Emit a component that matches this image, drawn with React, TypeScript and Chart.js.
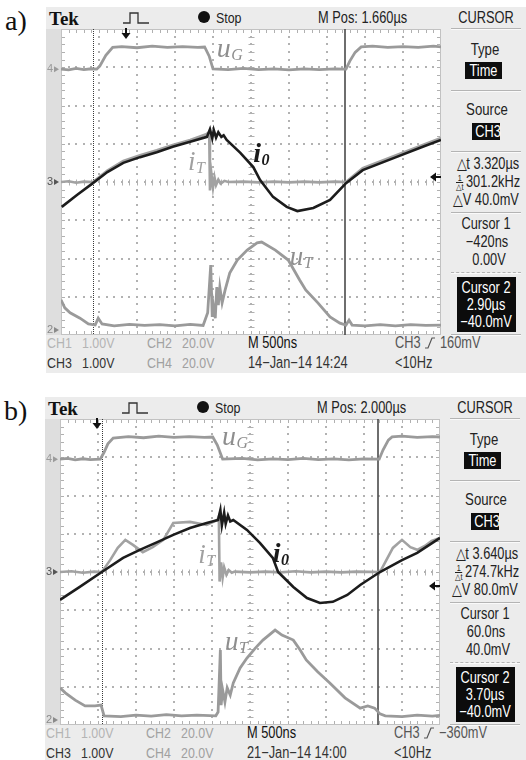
import React, { useEffect, useRef } from "react";
import { Chart, registerables } from "chart.js";
Chart.register(...registerables);

type P = [number, number];

// ---- Graticule: 10 horizontal divisions of 0.5 µs, 8 vertical divisions ----
const X_DIVS = 10;
const Y_DIVS = 8;
const SEC_PER_DIV = 0.5; // µs
const CHANNEL_LEVELS = [
  { label: "4", y: 6.95, color: "#9a9a9a" },
  { label: "3", y: 4.0, color: "#555555" },
  { label: "2", y: 0.13, color: "#8a8a8a" },
];

// ---- Panel a) ----
const A_UG: P[] = [[0,6.95],[0.1,6.93],[0.2,6.97],[0.3,6.94],[0.4,6.96],[0.47,6.95],[0.51,7.03],[0.59,7.31],[0.68,7.52],[0.8,7.54],[1.0,7.51],[1.2,7.55],[1.4,7.52],[1.6,7.54],[1.8,7.52],[1.89,7.53],[1.95,7.29],[2.0,6.96],[2.2,6.94],[2.4,6.97],[2.6,6.94],[2.8,6.96],[3.0,6.93],[3.2,6.96],[3.4,6.94],[3.6,6.96],[3.75,6.95],[3.8,7.16],[3.87,7.39],[3.95,7.53],[4.1,7.55],[4.3,7.52],[4.5,7.54],[4.7,7.52],[4.9,7.55],[5.0,7.53]];
const A_I0: P[] = [[0.01,3.35],[0.21,3.66],[0.42,3.97],[0.61,4.26],[0.82,4.5],[1.04,4.65],[1.26,4.78],[1.47,4.92],[1.7,5.05],[1.92,5.18],[1.96,5.38],[1.99,5.14],[2.01,5.36],[2.04,5.16],[2.07,5.3],[2.11,5.18],[2.14,5.22],[2.18,5.1],[2.36,4.76],[2.53,4.39],[2.62,4.05],[2.79,3.61],[2.97,3.35],[3.11,3.24],[3.32,3.32],[3.54,3.53],[3.75,3.97],[3.97,4.31],[4.41,4.65],[4.76,4.92],[5.0,5.1]];
const A_IT: P[] = [[0,4.0],[0.1,4.02],[0.2,3.98],[0.3,4.01],[0.42,4.0],[0.61,4.3],[0.82,4.55],[1.04,4.7],[1.26,4.83],[1.47,4.97],[1.7,5.1],[1.9,5.24],[1.95,5.3],[1.96,3.78],[1.98,4.2],[2.0,3.85],[2.02,4.12],[2.04,3.92],[2.07,4.06],[2.1,3.96],[2.15,4.03],[2.2,4.0],[2.4,4.01],[2.6,3.99],[2.8,4.01],[3.0,3.99],[3.2,4.01],[3.4,3.99],[3.6,4.01],[3.75,4.0],[3.97,4.36],[4.41,4.7],[4.76,4.97],[5.0,5.15]];
const A_UT: P[] = [[0,0.92],[0.05,0.71],[0.12,0.58],[0.25,0.44],[0.36,0.29],[0.45,0.26],[0.49,0.44],[0.54,0.29],[0.7,0.24],[0.9,0.28],[1.1,0.25],[1.3,0.27],[1.5,0.24],[1.7,0.28],[1.87,0.25],[1.93,0.58],[1.97,1.83],[1.99,0.47],[2.0,0.84],[2.03,0.44],[2.05,1.25],[2.07,0.78],[2.09,1.25],[2.12,0.84],[2.16,1.18],[2.22,1.62],[2.32,1.96],[2.45,2.22],[2.58,2.41],[2.64,2.43],[2.82,2.22],[2.99,1.96],[3.14,1.44],[3.22,1.18],[3.38,0.84],[3.54,0.47],[3.67,0.31],[3.75,0.26],[3.79,0.39],[3.83,0.26],[4.0,0.24],[4.2,0.27],[4.4,0.24],[4.6,0.27],[4.8,0.25],[5.0,0.26]];

// ---- Panel b) ----
const B_UG: P[] = [[0,6.95],[0.1,6.97],[0.2,6.93],[0.3,6.96],[0.4,6.94],[0.53,6.95],[0.58,7.13],[0.63,7.35],[0.7,7.5],[0.9,7.54],[1.1,7.51],[1.3,7.55],[1.5,7.52],[1.7,7.54],[1.9,7.52],[2.01,7.53],[2.07,7.32],[2.14,6.95],[2.4,6.97],[2.6,6.93],[2.8,6.96],[3.0,6.94],[3.2,6.97],[3.4,6.94],[3.6,6.96],[3.8,6.93],[4.0,6.96],[4.2,6.95],[4.25,7.19],[4.32,7.45],[4.37,7.53],[4.5,7.55],[4.7,7.52],[4.9,7.54],[5.0,7.53]];
const B_I0: P[] = [[0,3.27],[0.26,3.61],[0.55,4.0],[0.83,4.37],[1.05,4.58],[1.28,4.78],[1.49,4.97],[1.71,5.15],[1.93,5.28],[2.08,5.36],[2.11,5.62],[2.13,5.22],[2.16,5.55],[2.18,5.26],[2.21,5.48],[2.24,5.32],[2.28,5.36],[2.46,5.1],[2.63,4.76],[2.8,4.37],[2.87,4.0],[3.07,3.61],[3.25,3.32],[3.42,3.19],[3.59,3.22],[3.78,3.4],[3.95,3.66],[4.21,4.0],[4.5,4.31],[4.7,4.5],[5.0,4.89]];
const B_IT: P[] = [[0,4.0],[0.15,4.02],[0.3,3.98],[0.45,4.01],[0.55,4.0],[0.66,4.31],[0.76,4.63],[0.86,4.84],[0.96,4.71],[1.09,4.52],[1.22,4.65],[1.36,4.84],[1.49,5.28],[1.71,5.31],[1.93,5.23],[2.07,5.36],[2.09,5.46],[2.1,3.75],[2.12,4.25],[2.14,3.85],[2.16,4.12],[2.19,3.93],[2.22,4.05],[2.26,3.98],[2.3,4.01],[2.5,3.99],[2.7,4.01],[2.9,3.99],[3.1,4.02],[3.3,3.99],[3.5,4.01],[3.7,3.99],[3.9,4.01],[4.21,4.0],[4.28,4.26],[4.38,4.63],[4.5,4.84],[4.61,4.65],[4.7,4.58],[4.8,4.68],[4.89,4.81],[5.0,4.89]];
const B_UT: P[] = [[0,0.97],[0.07,0.84],[0.2,0.65],[0.33,0.5],[0.46,0.5],[0.54,0.52],[0.58,0.24],[0.8,0.22],[1.0,0.26],[1.2,0.23],[1.4,0.27],[1.6,0.24],[1.8,0.26],[2.05,0.24],[2.08,0.34],[2.11,1.96],[2.12,0.52],[2.14,0.92],[2.17,0.6],[2.2,0.97],[2.24,0.78],[2.28,1.1],[2.37,1.49],[2.46,1.75],[2.57,2.01],[2.67,2.22],[2.83,2.48],[2.92,2.35],[3.07,2.22],[3.16,1.96],[3.24,1.7],[3.39,1.39],[3.55,1.1],[3.75,0.71],[3.95,0.44],[4.05,0.5],[4.14,0.44],[4.21,0.29],[4.28,0.24],[4.5,0.22],[4.7,0.26],[4.9,0.23],[5.0,0.25]];

type Label = { x: number; y: number; main: string; sub: string; color: string; bold: boolean; size: number };

type PanelCfg = {
  ox: number; oy: number; tag: string;
  mpos: string; dt: string; freq: string; dv: string;
  c1t: string; c1v: string; c2t: string; c2v: string;
  trig: string; date: string;
  cursor1: number; cursor2: number; trigPos: number; trigLevel: number;
  uG: P[]; i0: P[]; iT: P[]; uT: P[];
  labels: Label[];
};

const PANEL_A: PanelCfg = {
  ox: 0, oy: 0, tag: "a)",
  mpos: "M Pos: 1.660\u00b5s", dt: "3.320\u00b5s", freq: "301.2kHz", dv: "40.0mV",
  c1t: "\u2212420ns", c1v: "0.00V", c2t: "2.90\u00b5s", c2v: "\u221240.0mV",
  trig: "160mV", date: "14\u2212Jan\u221214 14:24",
  cursor1: 0.42, cursor2: 3.74, trigPos: 0.855, trigLevel: 4.13,
  uG: A_UG, i0: A_I0, iT: A_IT, uT: A_UT,
  labels: [
    { x: 2.05, y: 7.27, main: "u", sub: "G", color: "#8e8e8e", bold: false, size: 28 },
    { x: 2.53, y: 4.52, main: "i", sub: "0", color: "#1a1a1a", bold: true, size: 28 },
    { x: 1.67, y: 4.31, main: "i", sub: "T", color: "#a0a0a0", bold: false, size: 27 },
    { x: 3.01, y: 1.83, main: "u", sub: "T", color: "#8e8e8e", bold: false, size: 27 },
  ],
};

const PANEL_B: PanelCfg = {
  ox: -1, oy: 390, tag: "b)",
  mpos: "M Pos: 2.000\u00b5s", dt: "3.640\u00b5s", freq: "274.7kHz", dv: "80.0mV",
  c1t: "60.0ns", c1v: "40.0mV", c2t: "3.70\u00b5s", c2v: "\u221240.0mV",
  trig: "\u2212360mV", date: "21\u2212Jan\u221214 14:00",
  cursor1: 0.55, cursor2: 4.19, trigPos: 0.49, trigLevel: 3.63,
  uG: B_UG, i0: B_I0, iT: B_IT, uT: B_UT,
  labels: [
    { x: 2.13, y: 7.32, main: "u", sub: "G", color: "#8e8e8e", bold: false, size: 28 },
    { x: 2.8, y: 4.26, main: "i", sub: "0", color: "#1a1a1a", bold: true, size: 28 },
    { x: 1.82, y: 4.24, main: "i", sub: "T", color: "#a0a0a0", bold: false, size: 27 },
    { x: 2.17, y: 1.96, main: "u", sub: "T", color: "#8e8e8e", bold: false, size: 27 },
  ],
};

const SCOPE_FONT = '"Liberation Sans", "Arial", sans-serif';
const SERIF = '"Liberation Serif", "DejaVu Serif", serif';
const SQUEEZE = 0.8;

const toXY = (arr: P[]) => arr.map(([x, y]) => ({ x, y }));

function scopePlugin(cfg: PanelCfg) {
  return {
    id: "scope",
    beforeDraw(chart: any) {
      const { ctx, chartArea: a, scales } = chart;
      const xs = scales.x, ys = scales.y;
      ctx.save();
      ctx.fillStyle = "#ffffff";
      ctx.fillRect(a.left, a.top, a.right - a.left, a.bottom - a.top);
      ctx.fillStyle = "#b2b2b2";
      for (let i = 1; i < X_DIVS; i++) {
        const px = Math.round(xs.getPixelForValue(i * SEC_PER_DIV));
        for (let j = 1; j < Y_DIVS * 5; j++) {
          const py = Math.round(ys.getPixelForValue(j / 5));
          ctx.fillRect(px - 1, py - 1, 2, 2);
        }
      }
      for (let j = 1; j < Y_DIVS; j++) {
        const py = Math.round(ys.getPixelForValue(j));
        for (let i = 1; i < X_DIVS * 5; i++) {
          const px = Math.round(xs.getPixelForValue((i / 5) * SEC_PER_DIV));
          ctx.fillRect(px - 1, py - 1, 2, 2);
        }
      }
      ctx.strokeStyle = "#b0b0b0";
      ctx.lineWidth = 1;
      const cx = Math.round(xs.getPixelForValue((X_DIVS / 2) * SEC_PER_DIV)) + 0.5;
      const cy = Math.round(ys.getPixelForValue(Y_DIVS / 2)) + 0.5;
      ctx.beginPath();
      for (let i = 1; i < X_DIVS * 5; i++) {
        const px = Math.round(xs.getPixelForValue((i / 5) * SEC_PER_DIV)) + 0.5;
        ctx.moveTo(px, cy - 3); ctx.lineTo(px, cy + 3);
        ctx.moveTo(px, a.top); ctx.lineTo(px, a.top + 4);
        ctx.moveTo(px, a.bottom); ctx.lineTo(px, a.bottom - 4);
      }
      for (let j = 1; j < Y_DIVS * 5; j++) {
        const py = Math.round(ys.getPixelForValue(j / 5)) + 0.5;
        ctx.moveTo(cx - 3, py); ctx.lineTo(cx + 3, py);
        ctx.moveTo(a.left, py); ctx.lineTo(a.left + 4, py);
        ctx.moveTo(a.right, py); ctx.lineTo(a.right - 4, py);
      }
      ctx.stroke();
      ctx.strokeStyle = "#c2c2c2";
      ctx.strokeRect(a.left + 0.5, a.top + 0.5, a.right - a.left - 1, a.bottom - a.top - 1);
      ctx.restore();
    },
    beforeDatasetsDraw(chart: any) {
      const { ctx, chartArea: a, scales } = chart;
      ctx.save();
      const p1 = Math.round(scales.x.getPixelForValue(cfg.cursor1)) + 0.5;
      ctx.strokeStyle = "#3a3a3a";
      ctx.lineWidth = 1;
      ctx.setLineDash([1, 1]);
      ctx.beginPath(); ctx.moveTo(p1, a.top); ctx.lineTo(p1, a.bottom); ctx.stroke();
      ctx.setLineDash([]);
      const p2 = Math.round(scales.x.getPixelForValue(cfg.cursor2));
      ctx.strokeStyle = "#4a4a4a";
      ctx.lineWidth = 1.6;
      ctx.beginPath(); ctx.moveTo(p2, a.top); ctx.lineTo(p2, a.bottom); ctx.stroke();
      ctx.restore();
    },
    afterDatasetsDraw(chart: any) {
      const { ctx, chartArea: a, scales } = chart;
      const xs = scales.x, ys = scales.y;
      ctx.save();
      for (const l of cfg.labels) {
        const px = xs.getPixelForValue(l.x), py = ys.getPixelForValue(l.y);
        ctx.fillStyle = l.color;
        ctx.textAlign = "left";
        ctx.textBaseline = "alphabetic";
        ctx.font = `italic ${l.bold ? "bold " : ""}${l.size}px ${SERIF}`;
        ctx.fillText(l.main, px, py);
        const w = ctx.measureText(l.main).width;
        ctx.font = `italic ${l.bold ? "bold " : ""}16px ${SERIF}`;
        ctx.fillText(l.sub, px + w + 0.5, py + 3);
      }
      for (const m of CHANNEL_LEVELS) {
        const py = ys.getPixelForValue(m.y);
        ctx.fillStyle = m.color;
        ctx.font = `11px ${SCOPE_FONT}`;
        ctx.textBaseline = "middle";
        ctx.textAlign = "left";
        ctx.fillText(m.label, a.left - 14, py);
        ctx.beginPath();
        ctx.moveTo(a.left - 7, py - 3); ctx.lineTo(a.left - 2, py); ctx.lineTo(a.left - 7, py + 3);
        ctx.closePath(); ctx.fill();
      }
      const tx = Math.round(xs.getPixelForValue(cfg.trigPos));
      ctx.fillStyle = "#111";
      ctx.fillRect(tx - 1, a.top - 1, 2, 6);
      ctx.beginPath();
      ctx.moveTo(tx - 4.5, a.top + 4); ctx.lineTo(tx + 4.5, a.top + 4); ctx.lineTo(tx, a.top + 10);
      ctx.closePath(); ctx.fill();
      const ty = Math.round(ys.getPixelForValue(cfg.trigLevel));
      ctx.fillRect(a.right - 6, ty - 1, 6, 2);
      ctx.beginPath();
      ctx.moveTo(a.right - 5, ty - 4.5); ctx.lineTo(a.right - 5, ty + 4.5); ctx.lineTo(a.right - 11, ty);
      ctx.closePath(); ctx.fill();
      ctx.restore();
    },
  };
}

const Txt = ({ x, y, s = 15.5, c = "#222", w = 400, f = SCOPE_FONT, sq = SQUEEZE, children }: any) => (
  <span style={{ position: "absolute", left: x, top: y - s * 0.6, fontSize: s, lineHeight: `${s * 1.2}px`, color: c, fontWeight: w, fontFamily: f, whiteSpace: "nowrap", transform: `scaleX(${sq})`, transformOrigin: "left center" }}>{children}</span>
);

const CTxt = ({ cx, y, s = 15.5, c = "#222", children }: any) => (
  <div style={{ position: "absolute", left: cx - 50, width: 100, top: y - s * 0.6, fontSize: s, lineHeight: `${s * 1.2}px`, color: c, fontFamily: SCOPE_FONT, textAlign: "center", whiteSpace: "nowrap", transform: `scaleX(${SQUEEZE})`, transformOrigin: "center center" }}>
    {children}
  </div>
);

const Box = ({ x, y, w, h, children }: any) => (
  <div style={{ position: "absolute", left: x, top: y, width: w, height: h, background: "#0e0e0e", color: "#fff", fontFamily: SCOPE_FONT, fontSize: 16, lineHeight: `${h}px`, textAlign: "center", whiteSpace: "nowrap", overflow: "visible" }}>
    <span style={{ display: "inline-block", transform: `scaleX(${SQUEEZE})` }}>{children}</span>
  </div>
);

const Sep = ({ x, y, w, dashed }: any) => (
  <div style={{ position: "absolute", left: x, top: y, width: w, height: 0, borderTop: `1px ${dashed ? "dashed" : "solid"} #b4b4b4`, borderBottom: "1px solid #fafafa" }} />
);

function ScopePanel({ cfg }: { cfg: PanelCfg }) {
  const ref = useRef<HTMLCanvasElement>(null);
  useEffect(() => {
    const chart = new Chart(ref.current as HTMLCanvasElement, {
      type: "line",
      data: {
        datasets: [
          { label: "i0", data: toXY(cfg.i0), borderColor: "#1c1c1c", borderWidth: 2.6, pointRadius: 0, tension: 0 },
          { label: "iT", data: toXY(cfg.iT), borderColor: "#a2a2a2", borderWidth: 2.6, pointRadius: 0, tension: 0 },
          { label: "uG", data: toXY(cfg.uG), borderColor: "#9a9a9a", borderWidth: 2.8, pointRadius: 0, tension: 0 },
          { label: "uT", data: toXY(cfg.uT), borderColor: "#9a9a9a", borderWidth: 2.8, pointRadius: 0, tension: 0 },
        ],
      } as any,
      options: {
        responsive: false,
        animation: false,
        events: [],
        layout: { padding: { left: 15, top: 22, right: 85, bottom: 37 } },
        scales: {
          x: { type: "linear", min: 0, max: X_DIVS * SEC_PER_DIV, display: false },
          y: { type: "linear", min: 0, max: Y_DIVS, display: false },
        },
        plugins: { legend: { display: false }, tooltip: { enabled: false } },
      } as any,
      plugins: [scopePlugin(cfg)],
    });
    return () => chart.destroy();
  }, [cfg]);

  const X = (v: number) => v + cfg.ox;
  const Y = (v: number) => v + cfg.oy;
  const SX = 487;
  return (
    <>
      <div style={{ position: "absolute", left: X(46), top: Y(7), width: 480 - cfg.ox, height: 366, background: "#ececec" }} />
      <div style={{ position: "absolute", left: X(46), top: Y(29), width: 15, height: 306, background: "#dedede" }} />
      <Txt x={X(5)} y={Y(21)} s={28} c="#111" f={SERIF} sq={1}>{cfg.tag}</Txt>
      <Txt x={X(49)} y={Y(19)} s={19} c="#111" w={700} f={SERIF} sq={1}>Tek</Txt>
      <svg style={{ position: "absolute", left: X(122), top: Y(10) }} width={28} height={16}>
        <polyline points="1,13 8,13 8,3 16,3 16,13 27,13" fill="none" stroke="#333" strokeWidth={1.3} />
      </svg>
      <div style={{ position: "absolute", left: X(198), top: Y(11), width: 12, height: 12, borderRadius: 6, background: "#111" }} />
      <Txt x={X(216)} y={Y(18)} c="#222">Stop</Txt>
      <Txt x={X(318)} y={Y(18)} s={16} c="#222">{cfg.mpos}</Txt>
      <CTxt cx={X(SX - 1)} y={Y(18)} s={16}>CURSOR</CTxt>
      <Sep x={X(451)} y={Y(28)} w={70} />
      <CTxt cx={X(485)} y={Y(50)} s={16.5}>Type</CTxt>
      <Box x={X(465)} y={Y(62)} w={37} h={17}>Time</Box>
      <Sep x={X(451)} y={Y(90)} w={70} />
      <CTxt cx={X(SX)} y={Y(110)} s={16.5}>Source</CTxt>
      <Box x={X(472)} y={Y(123)} w={28} h={17}>CH3</Box>
      <Sep x={X(451)} y={Y(151)} w={70} />
      <CTxt cx={X(488)} y={Y(164)} s={16}>{"\u25b3t " + cfg.dt}</CTxt>
      <div style={{ position: "absolute", left: X(438), width: 100, top: Y(172), height: 20, fontFamily: SCOPE_FONT, fontSize: 16, lineHeight: "20px", color: "#222", textAlign: "center", whiteSpace: "nowrap", transform: `scaleX(${SQUEEZE})` }}>
        <span style={{ display: "inline-block", verticalAlign: "middle", fontSize: 9, lineHeight: "8px", textAlign: "center", marginRight: 3 }}>
          <span style={{ display: "block", borderBottom: "1px solid #222" }}>1</span>
          <span style={{ display: "block" }}>{"\u25b3t"}</span>
        </span>
        {cfg.freq}
      </div>
      <CTxt cx={X(486)} y={Y(200)} s={16}>{"\u25b3V " + cfg.dv}</CTxt>
      <Sep x={X(451)} y={Y(212)} w={70} />
      <CTxt cx={X(486)} y={Y(224)} s={16}>Cursor 1</CTxt>
      <CTxt cx={X(487)} y={Y(242)} s={16}>{cfg.c1t}</CTxt>
      <CTxt cx={X(489)} y={Y(260)} s={16}>{cfg.c1v}</CTxt>
      <Sep x={X(451)} y={Y(272)} w={70} dashed />
      <div style={{ position: "absolute", left: X(457), top: Y(277), width: 59, height: 55, background: "#0c0c0c" }} />
      <CTxt cx={X(486)} y={Y(288)} s={16} c="#fff">Cursor 2</CTxt>
      <CTxt cx={X(486)} y={Y(305)} s={16} c="#fff">{cfg.c2t}</CTxt>
      <CTxt cx={X(486)} y={Y(322)} s={16} c="#fff">{cfg.c2v}</CTxt>
      <Sep x={X(451)} y={Y(334)} w={70} />
      <Txt x={X(47)} y={Y(343)} c="#b4b4b4">CH1</Txt>
      <Txt x={X(82)} y={Y(343)} c="#b4b4b4">1.00V</Txt>
      <Txt x={X(147)} y={Y(343)} c="#a2a2a2">CH2</Txt>
      <Txt x={X(182)} y={Y(343)} c="#a2a2a2">20.0V</Txt>
      <Txt x={X(248)} y={Y(343)} s={16} c="#111">M 500ns</Txt>
      <Txt x={X(395)} y={Y(343)} s={16} c="#555">CH3</Txt>
      <svg style={{ position: "absolute", left: X(424), top: Y(336) }} width={12} height={14}>
        <polyline points="1,12 4,12 8,2 11,2" fill="none" stroke="#555" strokeWidth={1.2} />
      </svg>
      <Txt x={X(440)} y={Y(343)} s={16} c="#555">{cfg.trig}</Txt>
      <Txt x={X(47)} y={Y(363)} c="#333">CH3</Txt>
      <Txt x={X(82)} y={Y(363)} c="#333">1.00V</Txt>
      <Txt x={X(147)} y={Y(363)} c="#a0a0a0">CH4</Txt>
      <Txt x={X(182)} y={Y(363)} c="#a0a0a0">20.0V</Txt>
      <Txt x={X(248)} y={Y(363)} s={16} c="#333">{cfg.date}</Txt>
      <Txt x={X(395)} y={Y(363)} s={16} c="#333">{"<10Hz"}</Txt>
      <canvas ref={ref} width={480} height={365} style={{ position: "absolute", left: X(46), top: Y(7), width: 480, height: 365 }} />
    </>
  );
}

export default function App() {
  return (
    <div style={{ position: "absolute", left: 0, top: 0, width: 526, height: 760, overflow: "hidden", background: "#fff" }}>
      <ScopePanel cfg={PANEL_A} />
      <ScopePanel cfg={PANEL_B} />
    </div>
  );
}
